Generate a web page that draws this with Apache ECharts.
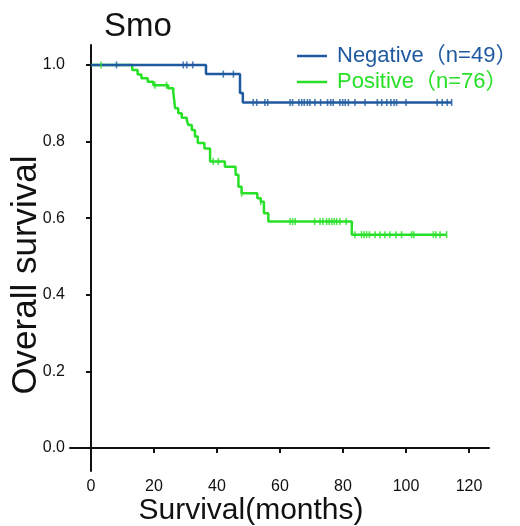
<!DOCTYPE html>
<html>
<head>
<meta charset="utf-8">
<script src="https://cdn.jsdelivr.net/npm/echarts@6/dist/echarts.min.js"></script>
<style>
html,body{margin:0;padding:0;background:#fff;}
#main{width:520px;height:526px;}
</style>
</head>
<body>
<div id="main"></div>
<script>
// KM 曲线数据 [月份, 生存率]
var negativeSteps = [[0, 1], [36.5, 0.976], [47.3, 0.927], [48.2, 0.902], [114.5, 0.902]];
var positiveSteps = [
    [0, 1], [13.1, 0.987], [14.8, 0.975], [16.0, 0.965], [18.0, 0.956], [19.8, 0.947],
    [24.5, 0.939], [26.1, 0.930], [26.7, 0.887], [27.7, 0.874], [28.8, 0.862], [30.4, 0.856],
    [30.9, 0.843], [32.0, 0.830], [33.0, 0.813], [33.9, 0.796], [36.0, 0.782], [37.8, 0.748],
    [42.5, 0.734], [45.9, 0.713], [46.8, 0.682], [47.8, 0.665], [52.8, 0.652], [53.9, 0.643],
    [54.9, 0.613], [56.3, 0.591], [82.8, 0.557], [112.9, 0.557]
];
// 删失点
var negativeCensor = [
    [8.1, 1], [29.3, 1], [30.4, 1], [32.3, 1], [42.0, 0.976], [45.2, 0.976],
    [51.5, 0.902], [52.6, 0.902], [55.2, 0.902], [56.1, 0.902], [63.2, 0.902], [64.0, 0.902],
    [66.0, 0.902], [66.9, 0.902], [67.7, 0.902], [68.7, 0.902], [69.5, 0.902], [71.1, 0.902],
    [72.9, 0.902], [75.1, 0.902], [76.1, 0.902], [76.9, 0.902], [79.0, 0.902], [79.9, 0.902],
    [80.7, 0.902], [81.7, 0.902], [83.8, 0.902], [87.0, 0.902], [90.9, 0.902], [92.3, 0.902],
    [93.9, 0.902], [95.2, 0.902], [96.2, 0.902], [97.0, 0.902], [100.0, 0.902], [109.9, 0.902],
    [111.5, 0.902], [113.1, 0.902], [114.5, 0.902]
];
var positiveCensor = [
    [3.2, 1], [20.3, 0.947], [24.0, 0.947], [38.8, 0.748], [40.4, 0.748], [47.8, 0.665], [53.9, 0.643],
    [63.2, 0.591], [64.0, 0.591], [64.8, 0.591], [71.0, 0.591], [72.7, 0.591], [73.6, 0.591],
    [74.8, 0.591], [75.6, 0.591], [76.4, 0.591], [77.2, 0.591], [78.0, 0.591], [79.0, 0.591], [81.0, 0.591],
    [83.8, 0.557], [85.9, 0.557], [86.7, 0.557], [87.5, 0.557], [88.4, 0.557], [90.2, 0.557],
    [91.7, 0.557], [93.3, 0.557], [94.9, 0.557], [96.8, 0.557], [98.6, 0.557], [101.8, 0.557],
    [102.5, 0.557], [108.7, 0.557], [109.5, 0.557], [110.8, 0.557], [112.9, 0.557]
];
var xTicks = [0, 20, 40, 60, 80, 100, 120];
var yTicks = [0, 0.2, 0.4, 0.6, 0.8, 1.0];
var seriesNames = ['Negative（n=49）', 'Positive（n=76）'];

var blue = '#1F5AA0';
var green = '#28E028';
var font = 'Liberation Sans, Arial, Noto Sans CJK SC, sans-serif';

var chart = echarts.init(document.getElementById('main'));

var option = {
    animation: false,
    title: {
        text: 'Smo',
        left: 104,
        top: 10,
        padding: 0,
        textStyle: {fontSize: 33, fontWeight: 'normal', color: '#111', fontFamily: font}
    },
    legend: {
        orient: 'vertical',
        left: 297,
        top: 45,
        padding: 0,
        icon: 'rect',
        itemWidth: 30,
        itemHeight: 2.5,
        itemGap: 4,
        textStyle: {fontSize: 22, fontFamily: font, padding: [0, 0, 0, 5]},
        data: [
            {name: seriesNames[0], textStyle: {color: blue}},
            {name: seriesNames[1], textStyle: {color: green}}
        ]
    },
    grid: {left: 70, right: 31, top: 45, bottom: 55, outerBoundsMode: 'none', containLabel: false},
    xAxis: {
        type: 'value',
        min: -6.67,
        max: 126.35,
        name: 'Survival(months)',
        nameLocation: 'middle',
        nameGap: 25,
        nameMoveOverlap: false,
        nameTextStyle: {fontSize: 30, color: '#111', fontFamily: font, padding: [0, 57, 0, 0], verticalAlign: 'top'},
        axisLine: {lineStyle: {color: '#111', width: 2}},
        axisTick: {length: 5, lineStyle: {color: '#111', width: 2}, customValues: xTicks},
        axisLabel: {fontSize: 16, color: '#111', margin: 8, fontFamily: font, customValues: xTicks},
        splitLine: {show: false}
    },
    yAxis: {
        type: 'value',
        min: -0.06,
        max: 1.052,
        name: 'Overall survival',
        nameLocation: 'middle',
        nameGap: 26,
        nameMoveOverlap: false,
        nameTextStyle: {fontSize: 35, color: '#111', fontFamily: font, padding: [0, 34, 0, 0]},
        axisLine: {show: true, lineStyle: {color: '#111', width: 2}},
        axisTick: {show: true, length: 5, lineStyle: {color: '#111', width: 2}, customValues: yTicks},
        axisLabel: {
            fontSize: 16, color: '#111', margin: 5, fontFamily: font, customValues: yTicks,
            formatter: function (v) { return v.toFixed(1); }
        },
        splitLine: {show: false}
    },
    series: [
        {
            name: seriesNames[0],
            type: 'line',
            step: 'end',
            symbol: 'none',
            color: blue,
            lineStyle: {color: blue, width: 2.5},
            data: negativeSteps,
            z: 3
        },
        {
            name: seriesNames[1],
            type: 'line',
            step: 'end',
            symbol: 'none',
            color: green,
            lineStyle: {color: green, width: 2.5},
            data: positiveSteps,
            z: 2
        },
        {
            name: 'negCensor',
            type: 'scatter',
            symbol: 'rect',
            symbolSize: [1.6, 7],
            itemStyle: {color: blue},
            data: negativeCensor,
            z: 4
        },
        {
            name: 'posCensor',
            type: 'scatter',
            symbol: 'rect',
            symbolSize: [1.6, 7],
            itemStyle: {color: green},
            data: positiveCensor,
            z: 5
        }
    ]
};

chart.setOption(option);
</script>
</body>
</html>
